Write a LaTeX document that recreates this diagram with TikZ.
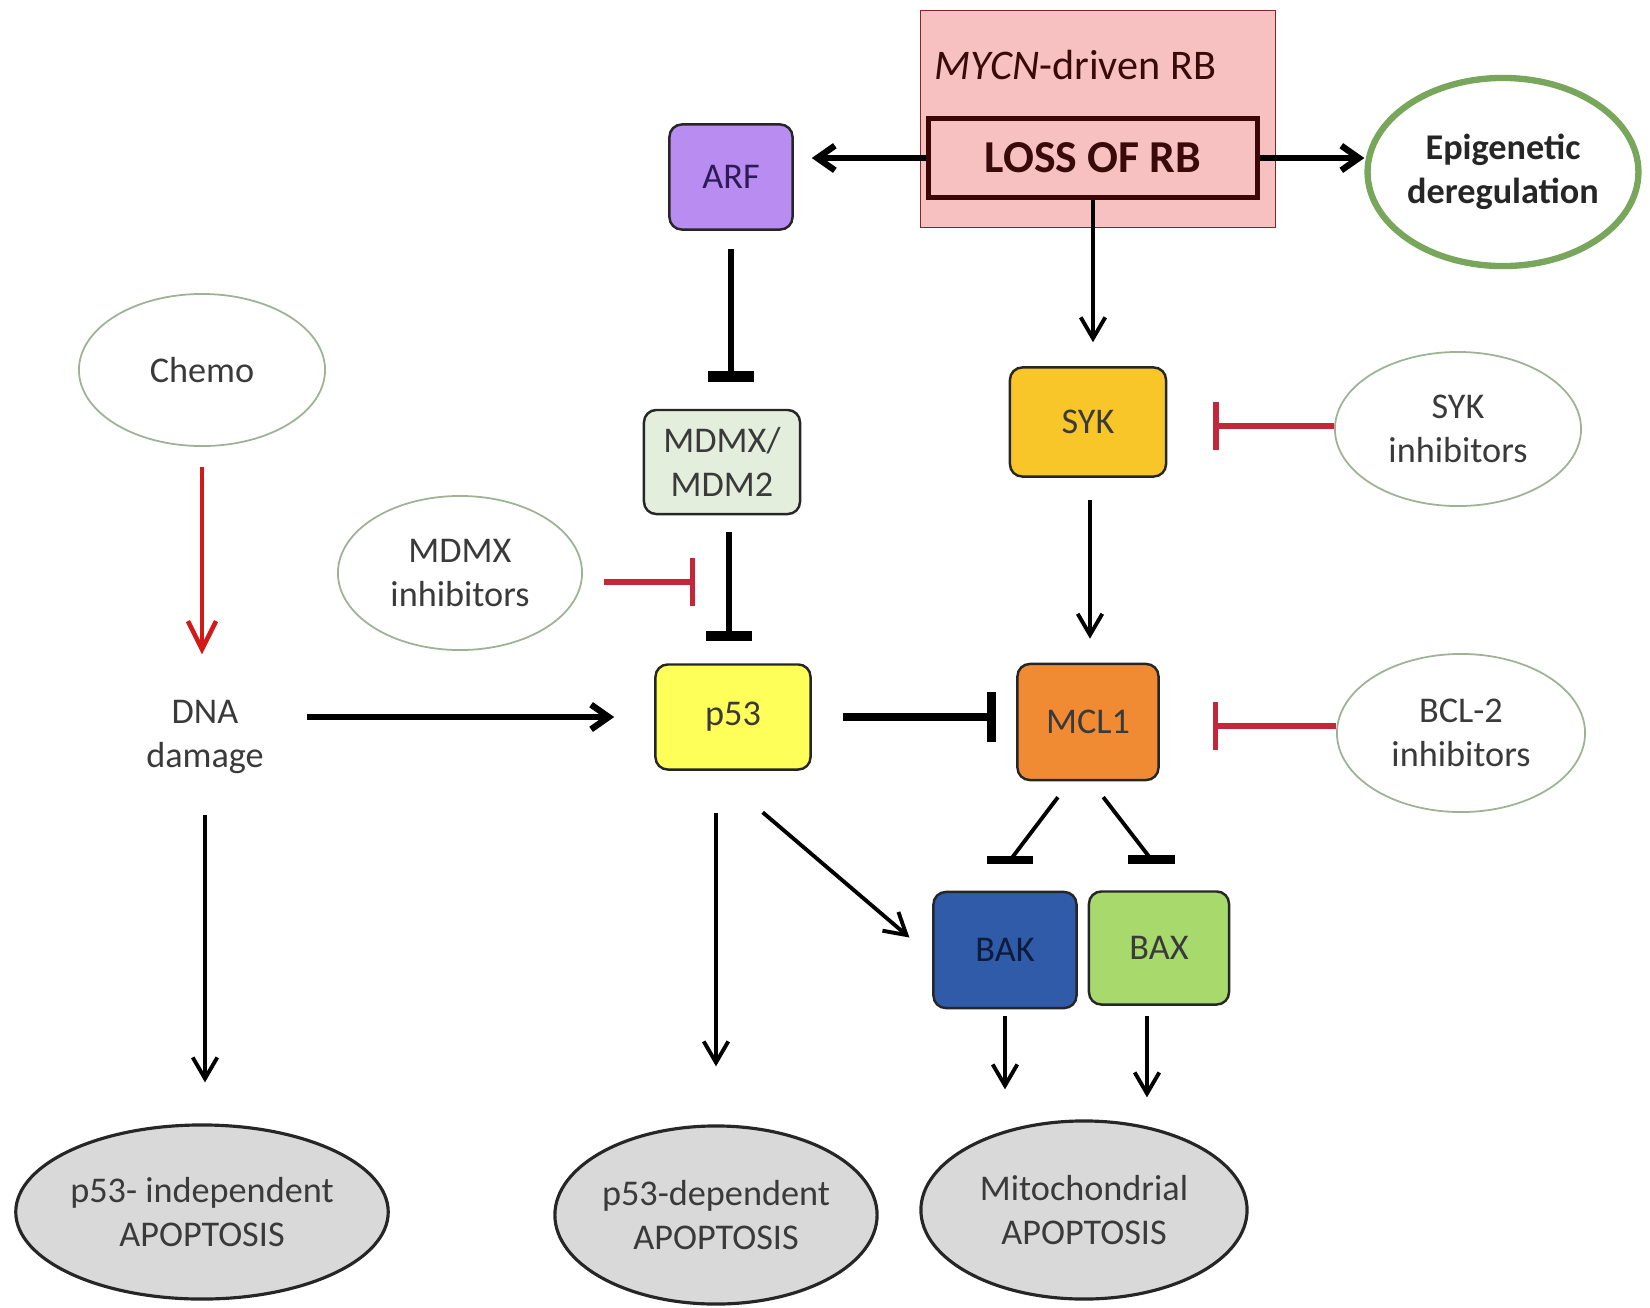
\documentclass[tikz,border=0pt]{standalone}
\usepackage{fontspec}
\setmainfont{Carlito}
\usepackage{tikz}
\usetikzlibrary{arrows.meta, shapes.geometric}
\usepackage{xcolor}

\definecolor{rbpink}{HTML}{F8C1C1}
\definecolor{mycnline}{HTML}{8A2525}
\definecolor{lossline}{HTML}{3D0606}
\definecolor{losstext}{HTML}{3A0A0A}
\definecolor{arfpurple}{HTML}{B98CF2}
\definecolor{arftext}{HTML}{2E1A55}
\definecolor{mdmgreen}{HTML}{E3EEDC}
\definecolor{p53yellow}{HTML}{FFFF59}
\definecolor{sykgold}{HTML}{F9C62A}
\definecolor{mclorange}{HTML}{F08B33}
\definecolor{bakblue}{HTML}{2F5BA9}
\definecolor{baktext}{HTML}{0D1B3D}
\definecolor{baxgreen}{HTML}{A8D96C}
\definecolor{fategray}{HTML}{D9D9D9}
\definecolor{drugline}{HTML}{9DB296}
\definecolor{inhred}{HTML}{C2273A}
\definecolor{chemored}{HTML}{D41919}
\definecolor{epigreen}{HTML}{78A65B}
\definecolor{txtgray}{HTML}{3A3A3A}
\definecolor{boxline}{HTML}{262626}

\begin{document}
\begin{tikzpicture}[x=0.01cm, y=-0.01cm,
        every node/.style={font=\fontsize{10.3}{12.6}\selectfont, text=txtgray, align=center, inner sep=0pt},
        gene/.style={draw=boxline, line width=0.7pt, rounded corners=3.5pt},
        drug/.style={ellipse, draw=drugline, line width=0.5pt, fill=white},
        fate/.style={ellipse, draw=boxline, line width=0.9pt, fill=fategray},
        bigact/.style={line width=1.8pt, -{Straight Barb[length=5pt, width=7pt]}},
        act/.style={line width=1.1pt, -{Straight Barb[length=6pt, width=7pt]}},
        biginh/.style={line width=1.8pt, -{Bar[width=13pt, line width=3pt]}},
        druginh/.style={line width=1.5pt, inhred, -{Bar[width=13.5pt]}},
        barline/.style={line width=2.5pt}]
    \useasboundingbox (0,0) rectangle (1650,1308);

    % RB loss
    \node[draw=mycnline, line width=0.5pt, fill=rbpink, minimum width=3.55cm, minimum height=2.17cm] (mycn) at (1098,119) {};
    \node[anchor=west, font=\fontsize{12}{14}\selectfont, text=losstext] (mycnlabel) at (934,65) {\textit{MYCN}-driven RB};
    \node[draw=lossline, line width=1.4pt, fill=rbpink, minimum width=3.28cm, minimum height=0.79cm,
        font=\bfseries\fontsize{13}{15}\selectfont, text=losstext] (loss) at (1093,158) {LOSS OF RB};
    \node[ellipse, draw=epigreen, line width=1.8pt, minimum width=2.36cm, minimum height=1.88cm,
        font=\bfseries\fontsize{10.3}{12.6}\selectfont, text=black!85] (epi) at (1503,172) {Epigenetic\\deregulation};

    % genes
    \node[gene, fill=arfpurple, text=arftext, minimum width=1.23cm, minimum height=1.05cm] (arf) at (731,177) {ARF};
    \node[gene, fill=mdmgreen, minimum width=1.56cm, minimum height=1.04cm] (mdm) at (722,462) {MDMX/\\MDM2};
    \node[gene, fill=p53yellow, minimum width=1.55cm, minimum height=1.05cm] (p53) at (733,717) {p53};
    \node[gene, fill=sykgold, minimum width=1.56cm, minimum height=1.09cm] (syk) at (1088,422) {SYK};
    \node[gene, fill=mclorange, minimum width=1.41cm, minimum height=1.16cm] (mcl) at (1088,722) {MCL1};
    \node[gene, fill=bakblue, text=baktext, minimum width=1.43cm, minimum height=1.16cm] (bak) at (1005,950) {BAK};
    \node[gene, fill=baxgreen, minimum width=1.40cm, minimum height=1.13cm] (bax) at (1159,948) {BAX};

    % drugs
    \node[drug, minimum width=2.46cm, minimum height=1.52cm] (chemo) at (202,370) {Chemo};
    \node[drug, minimum width=2.44cm, minimum height=1.54cm] (mdmxinh) at (460,573) {MDMX\\inhibitors};
    \node[drug, minimum width=2.46cm, minimum height=1.54cm] (sykinh) at (1458,429) {SYK\\inhibitors};
    \node[drug, minimum width=2.48cm, minimum height=1.58cm] (bclinh) at (1461,733) {BCL-2\\inhibitors};
    \node (dna) at (205,737) {DNA\\damage};

    % outcomes
    \node[fate, minimum width=3.68cm, minimum height=1.74cm] (indep) at (202,1212) {p53- independent\\APOPTOSIS};
    \node[fate, minimum width=3.06cm, minimum height=1.78cm] (dep) at (716,1215) {p53-dependent\\APOPTOSIS};
    \node[fate, minimum width=3.26cm, minimum height=1.78cm] (mito) at (1084,1210) {Mitochondrial\\APOPTOSIS};

    % top arrows
    \draw[bigact, shorten >=0.18cm] (loss.west) -- (loss.west -| arf.east);
    \draw[bigact] (loss.east) -- (loss.east -| epi.west);
    \draw[act, shorten >=0.24cm] (loss.south) -- (loss.south |- syk.north);

    % p53 axis
    \draw[biginh, shorten <=0.18cm, shorten >=0.27cm] (arf.south) -- (arf.south |- mdm.north);
    \draw[biginh, shorten <=0.17cm, shorten >=0.22cm] ([xshift=0.07cm]mdm.south) -- ([xshift=0.07cm]mdm.south |- p53.north);
    \draw[druginh, shorten <=0.21cm, shorten >=0.38cm] ([yshift=-0.09cm]mdmxinh.east) -- ([yshift=-0.09cm]mdmxinh.east -| p53);
    \draw[line width=1.3pt, chemored, -{Straight Barb[length=8pt, width=8pt]}, shorten <=0.2cm, shorten >=0.45cm] (chemo.south) -- (chemo.south |- dna.north);
    \draw[bigact, shorten <=0.43cm, shorten >=0.4cm] (dna.east |- p53.west) -- (p53.west);
    \draw[line width=2pt, -{Bar[width=14pt, line width=2.6pt]}, shorten <=0.31cm, shorten >=0.2cm] (p53.east) -- (p53.east -| mcl.west);

    % SYK / MCL1
    \draw[act, shorten <=0.22cm, shorten >=0.24cm] ([xshift=0.02cm]syk.south) -- ([xshift=0.02cm]mcl.north);
    \draw[druginh, shorten >=0.46cm] ([yshift=0.03cm]sykinh.west) -- ([yshift=0.03cm]sykinh.west -| syk.east);
    \draw[druginh, shorten >=0.53cm] ([yshift=0.07cm]bclinh.west) -- ([yshift=0.07cm]bclinh.west -| mcl.east);

    % MCL1 on BAK/BAX
    \path ([xshift=-0.18cm]mcl.south) -- ([xshift=-0.18cm]bak.north) coordinate[pos=0.72] (bakbar);
    \path ([xshift=0.03cm]mcl.south) -- ([xshift=0.16cm]bax.north) coordinate[pos=0.72] (baxbar);
    \draw[line width=1.1pt, shorten <=0.2cm] ([xshift=-0.18cm]mcl.south) -- (bakbar);
    \draw[line width=1.1pt, shorten <=0.2cm] ([xshift=0.03cm]mcl.south) -- (baxbar);
    \draw[barline] ([xshift=-0.23cm]bakbar) -- ([xshift=0.23cm]bakbar);
    \draw[barline] ([xshift=-0.23cm]baxbar) -- ([xshift=0.23cm]baxbar);
    \draw[act, shorten <=0.64cm, shorten >=0.3cm] ([xshift=-0.19cm]p53.south) -- ([yshift=-0.07cm]bak.west);

    % to apoptosis
    \draw[act, shorten <=0.4cm, shorten >=0.41cm] (dna.south) -- (dna.south |- indep.north);
    \draw[act, shorten <=0.42cm, shorten >=0.58cm] (dep |- p53.south) -- (dep.north);
    \draw[act, shorten <=0.07cm, shorten >=0.3cm] (bak.south) -- (bak.south |- mito.north);
    \draw[act, shorten <=0.1cm, shorten >=0.22cm] ([xshift=-0.12cm]bax.south) -- ([xshift=-0.12cm]bax.south |- mito.north);
\end{tikzpicture}
\end{document}
